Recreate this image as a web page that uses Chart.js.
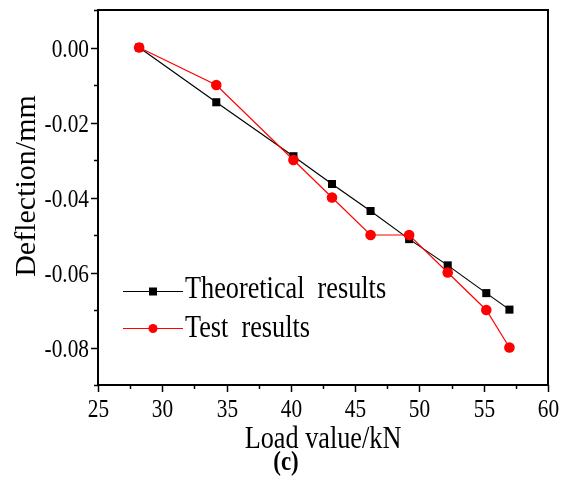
<!DOCTYPE html>
<html>
<head>
<meta charset="utf-8">
<script src="https://cdn.jsdelivr.net/npm/chart.js@4.4.1/dist/chart.umd.min.js"></script>
<style>
  html, body { margin: 0; padding: 0; background: #fff; }
  #wrap { width: 561px; height: 483px; }
</style>
</head>
<body>
<div id="wrap"><canvas id="deflection-chart" width="561" height="483"></canvas></div>
<script>
// values
const loadValues = [28.2, 34.2, 40.2, 43.2, 46.2, 49.2, 52.2, 55.2, 57.0];
const theoreticalDeflection = [0, -0.0146, -0.0290, -0.0364, -0.0436, -0.0511, -0.0581, -0.0655, -0.0699];
const testDeflection = [0, -0.010, -0.030, -0.040, -0.050, -0.050, -0.060, -0.070, -0.080];

const seriesNames = ["Theoretical  results", "Test  results"];
const xTitle = "Load value/kN";
const yTitle = "Deflection/mm";
const panelLabel = "(c)";

const SERIF = '"Liberation Serif", "Times New Roman", serif';
const SQUEEZE = 0.82; // the figure's lettering is narrow

function toPoints(xs, ys) {
  return xs.map((x, i) => ({ x: x, y: ys[i] }));
}

function narrowText(ctx, text, x, y, font, align, squeeze) {
  ctx.save();
  ctx.font = font;
  ctx.translate(x, y);
  ctx.scale(squeeze, 1);
  ctx.textAlign = align;
  ctx.textBaseline = "alphabetic";
  ctx.fillStyle = "#000";
  ctx.fillText(text, 0, 0);
  ctx.restore();
}

function isMultiple(v, step) {
  return Math.abs(Math.round(v / step) * step - v) < 1e-9;
}

const axesAndLabels = {
  id: "axesAndLabels",
  afterDraw(chart) {
    const ctx = chart.ctx;
    const area = chart.chartArea;
    const xs = chart.scales.x;
    const ys = chart.scales.y;

    ctx.save();
    ctx.strokeStyle = "#000";
    ctx.lineWidth = 2;
    ctx.strokeRect(area.left, area.top, area.right - area.left, area.bottom - area.top);

    // bottom axis ticks and labels
    ctx.lineWidth = 1.5;
    xs.ticks.forEach(t => {
      const px = Math.round(xs.getPixelForValue(t.value)) + 0.5;
      const major = isMultiple(t.value, 5);
      ctx.beginPath();
      ctx.moveTo(px, area.bottom);
      ctx.lineTo(px, area.bottom + (major ? 7 : 4));
      ctx.stroke();
      if (major) {
        narrowText(ctx, String(t.value), px, area.bottom + 32, "26px " + SERIF, "center", SQUEEZE);
      }
    });

    // left axis ticks and labels
    ys.ticks.forEach(t => {
      const py = Math.round(ys.getPixelForValue(t.value)) + 0.5;
      const major = isMultiple(t.value, 0.02);
      ctx.beginPath();
      ctx.moveTo(area.left, py);
      ctx.lineTo(area.left - (major ? 7 : 4), py);
      ctx.stroke();
      if (major && t.value < 0.005) {
        let label = t.value.toFixed(2);
        if (label === "-0.00") label = "0.00";
        narrowText(ctx, label, area.left - 9, py + 8, "26px " + SERIF, "right", SQUEEZE);
      }
    });

    // axis titles
    narrowText(ctx, xTitle, (area.left + area.right) / 2, 448, "32px " + SERIF, "center", SQUEEZE);
    ctx.save();
    ctx.translate(35, 186);
    ctx.rotate(-Math.PI / 2);
    ctx.font = "30px " + SERIF;
    ctx.textAlign = "center";
    ctx.fillStyle = "#000";
    ctx.fillText(yTitle, 0, 0);
    ctx.restore();

    narrowText(ctx, panelLabel, 286, 470, "bold 28px " + SERIF, "center", SQUEEZE);

    // legend
    const rows = [291, 328];
    chart.data.datasets.forEach((ds, i) => {
      const y = rows[i];
      const x0 = area.left + 25;
      ctx.strokeStyle = ds.borderColor;
      ctx.lineWidth = 1.2;
      ctx.beginPath();
      ctx.moveTo(x0, y + 0.5);
      ctx.lineTo(x0 + 60, y + 0.5);
      ctx.stroke();
      ctx.fillStyle = ds.backgroundColor;
      if (ds.pointStyle === "rect") {
        ctx.fillRect(x0 + 26, y - 3.5, 8, 8);
      } else {
        ctx.beginPath();
        ctx.arc(x0 + 30, y + 0.5, 4.5, 0, Math.PI * 2);
        ctx.fill();
      }
      narrowText(ctx, ds.label, x0 + 62, y + 7 + (i === 0 ? 0 : 2), "32px " + SERIF, "left", SQUEEZE);
    });
    ctx.restore();
  }
};

new Chart(document.getElementById("deflection-chart"), {
  type: "line",
  data: {
    datasets: [
      {
        label: seriesNames[0],
        data: toPoints(loadValues, theoreticalDeflection),
        borderColor: "#000000",
        backgroundColor: "#000000",
        borderWidth: 1.2,
        pointStyle: "rect",
        pointRadius: 5.7,
        pointBorderWidth: 0,
        order: 1
      },
      {
        label: seriesNames[1],
        data: toPoints(loadValues, testDeflection),
        borderColor: "#ff0000",
        backgroundColor: "#ff0000",
        borderWidth: 1.2,
        pointStyle: "circle",
        pointRadius: 5.3,
        pointBorderWidth: 0,
        order: 0
      }
    ]
  },
  options: {
    responsive: false,
    animation: false,
    devicePixelRatio: 1,
    layout: { padding: { top: 10, right: 13, left: 0, bottom: 0 } },
    plugins: { legend: { display: false }, tooltip: { enabled: false } },
    scales: {
      x: {
        type: "linear",
        min: 25,
        max: 60,
        ticks: { stepSize: 2.5, display: false },
        grid: { display: false, drawTicks: false },
        border: { display: false },
        afterFit: s => { s.height = 98; }
      },
      y: {
        type: "linear",
        min: -0.09,
        max: 0.01,
        ticks: { stepSize: 0.01, display: false },
        grid: { display: false, drawTicks: false },
        border: { display: false },
        afterFit: s => { s.width = 98; }
      }
    }
  },
  plugins: [axesAndLabels]
});
</script>
</body>
</html>
